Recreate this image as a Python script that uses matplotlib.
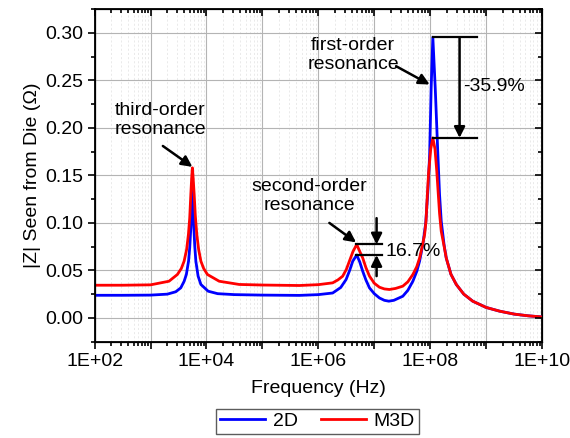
import numpy as np
import matplotlib
matplotlib.use("Agg")
import matplotlib.pyplot as plt
from matplotlib.ticker import LogLocator, FuncFormatter, MultipleLocator, NullFormatter

plt.rcParams['font.family'] = ['Liberation Sans', 'DejaVu Sans']
plt.rcParams['font.size'] = 14

# =========================================================
# Data (log10 of frequency in Hz, |Z| in ohm)
# =========================================================
logf_2d = [2.0, 2.5, 3.0, 3.3, 3.45, 3.54, 3.60, 3.64, 3.68, 3.70, 3.72, 3.737,
           3.748, 3.758, 3.77, 3.79, 3.81, 3.85, 3.90, 4.03, 4.2, 4.5, 5.0,
           5.66, 6.0, 6.256, 6.40, 6.496, 6.56, 6.615, 6.686, 6.74, 6.794,
           6.85, 6.914, 7.0, 7.092, 7.18, 7.26, 7.35, 7.51, 7.60, 7.69, 7.76,
           7.81, 7.87, 7.92, 7.96, 7.99, 8.017, 8.047, 8.09, 8.137, 8.167,
           8.197, 8.25, 8.287, 8.37, 8.466, 8.6, 8.76, 9.0, 9.24, 9.5, 9.75,
           10.0]
z_2d = [0.0238, 0.0238, 0.0240, 0.0250, 0.0275, 0.0316, 0.0385, 0.0457, 0.0600,
        0.0737, 0.0950, 0.1230, 0.1420, 0.1250, 0.1000, 0.0760, 0.0597, 0.0440,
        0.0352, 0.0281, 0.0255, 0.0245, 0.0240, 0.0237, 0.0245, 0.0262, 0.0320,
        0.0404, 0.0500, 0.0597, 0.0662, 0.0590, 0.0490, 0.0400, 0.0316, 0.0255,
        0.0210, 0.0185, 0.0176, 0.0185, 0.0228, 0.0290, 0.0386, 0.0490, 0.0597,
        0.0780, 0.1000, 0.1350, 0.1720, 0.2420, 0.2955, 0.2420, 0.1720, 0.1300,
        0.1020, 0.0760, 0.0630, 0.0460, 0.0352, 0.0250, 0.0176, 0.0110, 0.0071,
        0.0040, 0.0022, 0.0010]

logf_m3d = [2.0, 2.5, 3.0, 3.33, 3.48, 3.55, 3.60, 3.645, 3.677, 3.70, 3.72,
            3.735, 3.748, 3.762, 3.78, 3.80, 3.827, 3.86, 3.90, 3.95, 4.017,
            4.227, 4.585, 5.0, 5.66, 6.0, 6.256, 6.35, 6.435, 6.50, 6.555,
            6.62, 6.686, 6.74, 6.794, 6.85, 6.914, 7.0, 7.092, 7.18, 7.27,
            7.38, 7.51, 7.60, 7.69, 7.76, 7.81, 7.86, 7.90, 7.925, 7.94, 7.97,
            8.01, 8.047, 8.085, 8.118, 8.167, 8.197, 8.25, 8.287, 8.37, 8.466,
            8.6, 8.76, 9.0, 9.24, 9.5, 9.75, 10.0]
z_m3d = [0.0344, 0.0344, 0.0348, 0.0386, 0.0457, 0.0520, 0.0597, 0.0720, 0.0878,
         0.1050, 0.1300, 0.1470, 0.1580, 0.1470, 0.1300, 0.1080, 0.0878, 0.0720,
         0.0597, 0.0520, 0.0457, 0.0386, 0.0352, 0.0346, 0.0341, 0.0350, 0.0369,
         0.0400, 0.0439, 0.0510, 0.0597, 0.0700, 0.0773, 0.0700, 0.0630, 0.0530,
         0.0440, 0.0365, 0.0323, 0.0305, 0.0299, 0.0310, 0.0334, 0.0380, 0.0457,
         0.0540, 0.0630, 0.0760, 0.0878, 0.1020, 0.1200, 0.1520, 0.1780, 0.1895,
         0.1780, 0.1540, 0.1100, 0.0913, 0.0750, 0.0630, 0.0460, 0.0352, 0.0250,
         0.0176, 0.0110, 0.0071, 0.0040, 0.0022, 0.0010]

f_2d = 10 ** np.array(logf_2d)
f_m3d = 10 ** np.array(logf_m3d)

# =========================================================
# Figure
# =========================================================
fig = plt.figure(figsize=(5.7, 4.38), dpi=100)
ax = fig.add_axes([0.166, 0.22, 0.785, 0.759])

ax.plot(f_2d, z_2d, color="#0000ff", lw=2.0, label="2D", zorder=3)
ax.plot(f_m3d, z_m3d, color="#ff0000", lw=2.0, label="M3D", zorder=4)

ax.set_xscale("log")
ax.set_xlim(1e2, 1e10)
ax.set_ylim(-0.025, 0.325)

ax.xaxis.set_major_locator(LogLocator(base=10, numticks=20))
ax.xaxis.set_minor_locator(LogLocator(base=10, subs=np.arange(2, 10), numticks=100))
ax.xaxis.set_minor_formatter(NullFormatter())


def fmt_exp(v, pos):
    e = int(round(np.log10(v)))
    return f"1E+{e:02d}" if e % 2 == 0 else ""


ax.xaxis.set_major_formatter(FuncFormatter(fmt_exp))
ax.yaxis.set_major_locator(MultipleLocator(0.05))
ax.yaxis.set_minor_locator(MultipleLocator(0.025))
ax.yaxis.set_major_formatter(FuncFormatter(lambda v, p: f"{v:.2f}"))

ax.grid(True, which="major", color="#b4b4b4", lw=0.8)
ax.grid(True, which="minor", axis="x", color="#e2e2e2", lw=0.5, ls=(0, (3, 3)))
ax.set_axisbelow(True)

ax.tick_params(which="both", direction="out", width=1.2)
ax.tick_params(which="major", length=5)
ax.tick_params(which="minor", length=3)
for s in ax.spines.values():
    s.set_linewidth(1.3)

# mirrored ticks pointing inward on top and right
axt = ax.twiny()
axt.set_xscale("log")
axt.set_xlim(ax.get_xlim())
axt.xaxis.set_major_locator(LogLocator(base=10, numticks=20))
axt.xaxis.set_minor_locator(LogLocator(base=10, subs=np.arange(2, 10), numticks=100))
axt.tick_params(which="both", direction="in", labeltop=False, width=1.2)
axt.tick_params(which="major", length=5)
axt.tick_params(which="minor", length=3)
axr = ax.twinx()
axr.set_ylim(ax.get_ylim())
axr.yaxis.set_major_locator(MultipleLocator(0.05))
axr.yaxis.set_minor_locator(MultipleLocator(0.025))
axr.tick_params(which="both", direction="in", labelright=False, width=1.2)
axr.tick_params(which="major", length=5)
axr.tick_params(which="minor", length=3)

ax.set_xlabel("Frequency (Hz)", labelpad=7)
ax.set_ylabel("|Z| Seen from Die (Ω)", labelpad=3)

# =========================================================
# Annotations
# =========================================================
arw = dict(arrowstyle="-|>", color="black", lw=1.8, mutation_scale=16,
           shrinkA=0, shrinkB=0)

ax.annotate("", xy=(10 ** 3.748, 0.159), xytext=(10 ** 3.22, 0.181),
            arrowprops=arw, zorder=6)
ax.text(10 ** 3.18, 0.2086, "third-order\nresonance", ha="center",
        va="center", linespacing=1.15)

ax.annotate("", xy=(10 ** 6.675, 0.0795), xytext=(10 ** 6.197, 0.100),
            arrowprops=arw, zorder=6)
ax.text(10 ** 5.84, 0.128, "second-order\nresonance", ha="center",
        va="center", linespacing=1.15)

ax.annotate("", xy=(10 ** 7.99, 0.2457), xytext=(10 ** 7.39, 0.265),
            arrowprops=arw, zorder=6)
ax.text(10 ** 6.62, 0.2765, "first-order\nresonance", ha="center",
        va="center", linespacing=1.15)

# -35.9% dimension
top1 = max(z_2d)
bot1 = max(z_m3d)
ax.plot([1.1e8, 6.8e8], [top1, top1], color="black", lw=1.6, zorder=6)
ax.plot([1.1e8, 6.8e8], [bot1, bot1], color="black", lw=1.6, zorder=6)
ax.annotate("", xy=(3.35e8, bot1), xytext=(3.35e8, top1), arrowprops=arw, zorder=6)
ax.text(10 ** 8.58, 0.244, "-35.9%", ha="left", va="center")

# 16.7% dimension
top2 = 0.0773
bot2 = 0.0662
ax.plot([4.7e6, 1.4e7], [top2, top2], color="black", lw=1.6, zorder=6)
ax.plot([4.7e6, 1.4e7], [bot2, bot2], color="black", lw=1.6, zorder=6)
ax.annotate("", xy=(1.1e7, top2), xytext=(1.1e7, 0.105), arrowprops=arw, zorder=6)
ax.annotate("", xy=(1.1e7, bot2), xytext=(1.1e7, 0.044), arrowprops=arw, zorder=6)
ax.text(10 ** 7.2, 0.070, "16.7%", ha="left", va="center", zorder=7)

leg = fig.legend(loc="lower center", bbox_to_anchor=(0.557, 0.009), ncol=2,
                 frameon=True, fancybox=False, edgecolor="#333333",
                 handlelength=2.3, columnspacing=1.2, borderpad=0.2,
                 handletextpad=0.4, borderaxespad=0)
leg.get_frame().set_linewidth(1.0)

fig.savefig("out.png", dpi=100)
